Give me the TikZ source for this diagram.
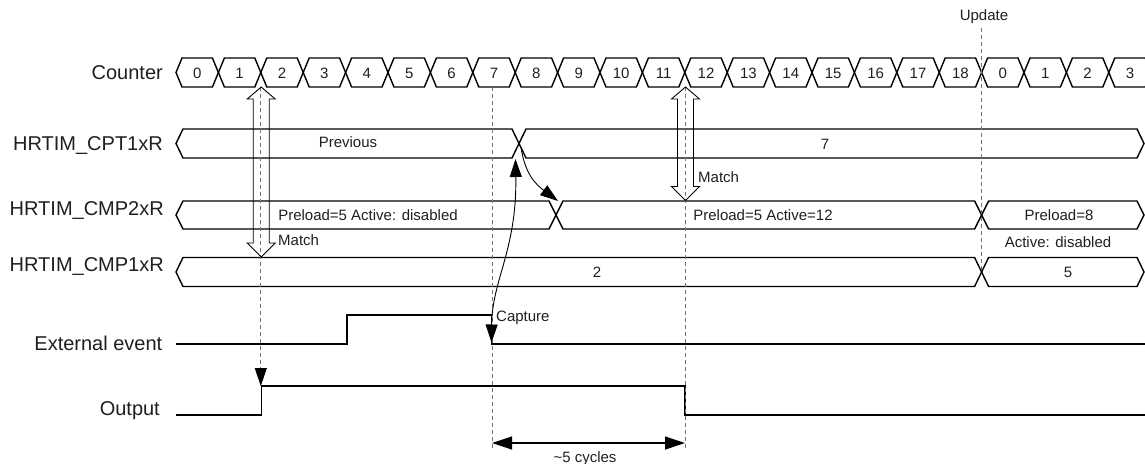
\documentclass[tikz,border=0pt]{standalone}
\usepackage{fontspec}
\setmainfont{Liberation Sans}
\usetikzlibrary{arrows.meta,calc}
\newcommand{\busseg}[5]{%
  \draw[bus] (#1,#3) -- ({#1+#5},{#3-#4}) -- ({#2-#5},{#3-#4}) -- (#2,#3) -- ({#2-#5},{#3+#4}) -- ({#1+#5},{#3+#4}) -- cycle;}
\newcommand{\hollowarrow}[3]{%
  \draw[hollow] (#1,#2) -- ({#1+14},{#2+12}) -- ({#1+8},{#2+12}) -- ({#1+8},{#3-14}) -- ({#1+14},{#3-14}) -- (#1,#3) -- ({#1-14},{#3-14}) -- ({#1-8},{#3-14}) -- ({#1-8},{#2+12}) -- ({#1-14},{#2+12}) -- cycle;}
\begin{document}
\begin{tikzpicture}[x=1pt,y=-1pt,
  bus/.style={line width=1.4pt, line join=miter},
  sig/.style={line width=1.6pt, line join=miter},
  guide/.style={black!55, dash pattern=on 4pt off 3pt, line width=0.8pt},
  lbl/.style={font=\fontsize{20}{24}\selectfont, anchor=base east, inner sep=0pt, text=black!88},
  small/.style={font=\fontsize{15}{18}\selectfont, anchor=base, inner sep=0pt, text=black!88},
  hollow/.style={line width=0.9pt},
  tri/.tip={Triangle[length=18pt,width=12pt]},
  bigtri/.tip={Triangle[length=20pt,width=13pt]},
]
\useasboundingbox (0,0) rectangle (1145,463);
\clip (0,0) rectangle (1145,463);

% labels
\node[lbl] (lcnt) at (163,79.7) {Counter};
\node[lbl] (lcpt) at (163,150.7) {HRTIM\_CPT1xR};
\node[lbl] (lcmp2) at (164,215) {HRTIM\_CMP2xR};
\node[lbl] (lcmp1) at (164,271.7) {HRTIM\_CMP1xR};
\node[lbl] (lext) at (162.5,350) {External event};
\node[lbl] (lout) at (160,415) {Output};

% counter
\foreach \v [count=\i from 0] in {0,1,2,3,4,5,6,7,8,9,10,11,12,13,14,15,16,17,18,0,1,2,3} {
  \pgfmathsetmacro\xa{176+42.4*\i}
  \pgfmathsetmacro\xb{\xa+42.4}
  \busseg{\xa}{\xb}{72.5}{14.5}{6}
  \node[small] (cnt\i) at ({(\xa+\xb)/2},78) {\v};
}

% HRTIM_CPT1xR
\busseg{176}{519}{143.5}{14.5}{7}
\busseg{519}{1144}{143.5}{14.5}{7}
\node[small] (tprev) at (348,147.5) {Previous};
\node[small] (tseven) at (825,149) {7};

% HRTIM_CMP2xR
\busseg{176}{556}{215}{14}{7}
\busseg{556}{981.6}{215}{14}{7}
\busseg{981.6}{1144}{215}{14}{7}
\node[small] (tpre1) at (368,220) {Preload=5 Active: disabled};
\node[small] (tpre2) at (763,220.5) {Preload=5 Active=12};
\node[small] (tpre3) at (1059,220.5) {Preload=8};
\node[small] (tact) at (1058,247) {Active: disabled};

% HRTIM_CMP1xR
\busseg{176}{981.6}{272}{14.5}{7}
\busseg{981.6}{1144}{272}{14.5}{7}
\node[small] (ttwo) at (597,277) {2};
\node[small] (tfive) at (1068,277) {5};

% signals
\draw[sig] (176,344) -- (347,344) -- (347,315) -- (491.5,315) -- (491.5,344) -- (1145,344);
\draw[sig] (176,415) -- (261.5,415) -- (261.5,386) -- (685,386) -- (685,415) -- (1145,415);

% guide coordinates
\coordinate (g1t) at (260.8,87);
\coordinate (g1b) at (260.8,368);
\coordinate (g1o) at (260.8,386);
\coordinate (g2t) at (492,87);
\coordinate (g2b) at (492,448);
\coordinate (g3t) at (685,87);
\coordinate (g3b) at (685,448);
\coordinate (g4t) at (981.6,28);
\coordinate (g4b) at (981.6,272);
\draw[guide] (g1t) -- (g1b);
\draw[guide] (g2t) -- (g2b);
\draw[guide] (g3t) -- (g3b);
\draw[guide] (g4t) -- (g4b);
\draw[-tri, line width=0.9pt] (g1b) -- (g1o);
\node[small] (tupd) at (984,20.7) {Update};

% hollow match arrows
\hollowarrow{261.2}{87}{257}
\hollowarrow{685.5}{87}{200.5}
\node[small, anchor=base west] (tm1) at (278,245) {Match};
\node[small, anchor=base west] (tm2) at (698,182.3) {Match};

% capture arrows
\coordinate (capB) at (491.5,342.5);
\coordinate (cptX) at (515.5,159);
\coordinate (cptC) at (521,147);
\coordinate (cmpX) at (558,201);
\draw[tri-tri, line width=0.9pt] (capB) .. controls (492,280) and (517,250) .. (cptX);
\draw[-tri, line width=0.9pt] (cptC) .. controls (525,176) and (538,186) .. (cmpX);
\node[small, anchor=base west] (tcap) at (496,321) {Capture};

% dimension
\coordinate (d1) at (492,443);
\coordinate (d2) at (685,443);
\draw[bigtri-bigtri, line width=1.2pt] (d1) -- (d2);
\node[small] (tcyc) at (585,462) {\textasciitilde5 cycles};
\end{tikzpicture}
\end{document}
